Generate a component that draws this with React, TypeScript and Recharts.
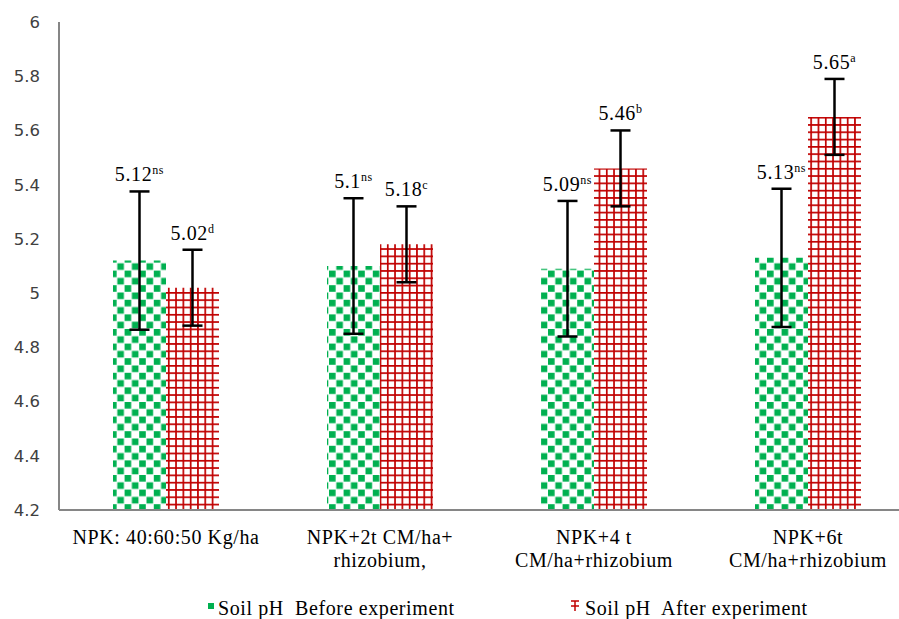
import { BarChart, Bar, XAxis, YAxis, ErrorBar, LabelList } from 'recharts';

const categories = [
  'NPK: 40:60:50 Kg/ha',
  'NPK+2t CM/ha+\nrhizobium,',
  'NPK+4 t\nCM/ha+rhizobium',
  'NPK+6t\nCM/ha+rhizobium',
];
const before = [5.12, 5.1, 5.09, 5.13];
const after = [5.02, 5.18, 5.46, 5.65];
const beforeErr = [0.255, 0.25, 0.25, 0.255];
const afterErr = [0.14, 0.14, 0.14, 0.14];
const beforeSig = ['ns', 'ns', 'ns', 'ns'];
const afterSig = ['d', 'c', 'b', 'a'];
const yTicks = [4.2, 4.4, 4.6, 4.8, 5, 5.2, 5.4, 5.6, 5.8, 6];

const Y_MIN = 4.2;
const GREEN = '#00b050';
const RED = '#c00000';
const serifText = {
  fontFamily: 'Liberation Serif, Times New Roman, serif',
  fontSize: 20,
  letterSpacing: 0.6,
};

const data = categories.map((name, i) => ({
  name,
  before: before[i],
  after: after[i],
  beforeErr: beforeErr[i],
  afterErr: afterErr[i],
}));

// value label sits just above the top whisker of the error bar
const makeLabel = (errs: number[], sigs: string[]) => (props: any) => {
  const { x, y, width, height, value, index } = props;
  const v = Number(value);
  const ppu = Number(height) / (v - Y_MIN);
  const top = Number(y) - errs[index] * ppu;
  return (
    <text
      x={Number(x) + Number(width) / 2}
      y={top - 10}
      textAnchor='middle'
      style={serifText}
      fill='#000'
    >
      <tspan>{String(value)}</tspan>
      <tspan style={{ fontSize: 12 }} dy={-7}>
        {sigs[index]}
      </tspan>
    </text>
  );
};

const CategoryTick = (props: any) => {
  const { x, y, payload } = props;
  const lines = String(payload.value).split('\n');
  return (
    <text x={x} y={y + 32} textAnchor='middle' style={serifText} fill='#000'>
      {lines.map((l, i) => (
        <tspan key={i} x={x} dy={i === 0 ? 0 : 23}>
          {l}
        </tspan>
      ))}
    </text>
  );
};

const App = () => {
  return (
    <div
      style={{
        position: 'absolute',
        left: 0,
        top: 0,
        width: 899,
        height: 619,
        overflow: 'hidden',
        background: '#fff',
      }}
    >
      <BarChart
        width={930}
        height={590}
        data={data}
        margin={{ top: 22, right: 15, bottom: 0, left: 0 }}
        barGap={0}
        barSize={53}
      >
        <defs>
          <pattern id='checker' patternUnits='userSpaceOnUse' width={14.6} height={14.6}>
            <rect width={14.6} height={14.6} fill='#fff' />
            <rect x={0.5} y={0.5} width={6.6} height={6.6} fill={GREEN} />
            <rect x={7.8} y={7.8} width={6.6} height={6.6} fill={GREEN} />
          </pattern>
          <pattern id='grid' patternUnits='userSpaceOnUse' width={7.3} height={7.3}>
            <rect width={7.3} height={7.3} fill='#fff' />
            <rect x={0} y={0} width={1.7} height={7.3} fill={RED} />
            <rect x={0} y={0} width={7.3} height={1.7} fill={RED} />
          </pattern>
        </defs>
        <XAxis
          dataKey='name'
          height={80}
          tickLine={false}
          tickSize={0}
          tick={<CategoryTick />}
          axisLine={{ stroke: '#868686', strokeWidth: 2 }}
          interval={0}
        />
        <YAxis
          domain={[Y_MIN, 6]}
          ticks={yTicks}
          width={59}
          tickLine={false}
          tickSize={0}
          tickMargin={19}
          axisLine={{ stroke: '#868686', strokeWidth: 2 }}
          tick={{ fontFamily: 'DejaVu Sans, sans-serif', fontSize: 16.5, fill: '#404040' }}
          interval={0}
        />
        <Bar dataKey='before' fill='url(#checker)' isAnimationActive={false}>
          <ErrorBar dataKey='beforeErr' width={10} strokeWidth={2.5} stroke='#000' />
          <LabelList dataKey='before' content={makeLabel(beforeErr, beforeSig)} />
        </Bar>
        <Bar dataKey='after' fill='url(#grid)' isAnimationActive={false}>
          <ErrorBar dataKey='afterErr' width={10} strokeWidth={2.5} stroke='#000' />
          <LabelList dataKey='after' content={makeLabel(afterErr, afterSig)} />
        </Bar>
      </BarChart>
      <svg
        width={899}
        height={29}
        style={{ position: 'absolute', left: 0, top: 590 }}
      >
        <rect x={208} y={13} width={6} height={6} fill={GREEN} />
        <text x={218} y={25} style={serifText} fill='#000'>
          Soil pH{'\u00a0 '}Before experiment
        </text>
        <line x1={575} y1={11} x2={575} y2={21} stroke={RED} strokeWidth={1.5} />
        <line x1={571} y1={11} x2={579} y2={11} stroke={RED} strokeWidth={1.5} />
        <line x1={571} y1={16} x2={579} y2={16} stroke={RED} strokeWidth={1.5} />
        <text x={585} y={25} style={serifText} fill='#000'>
          Soil pH{'\u00a0 '}After experiment
        </text>
      </svg>
    </div>
  );
};

export default App;
